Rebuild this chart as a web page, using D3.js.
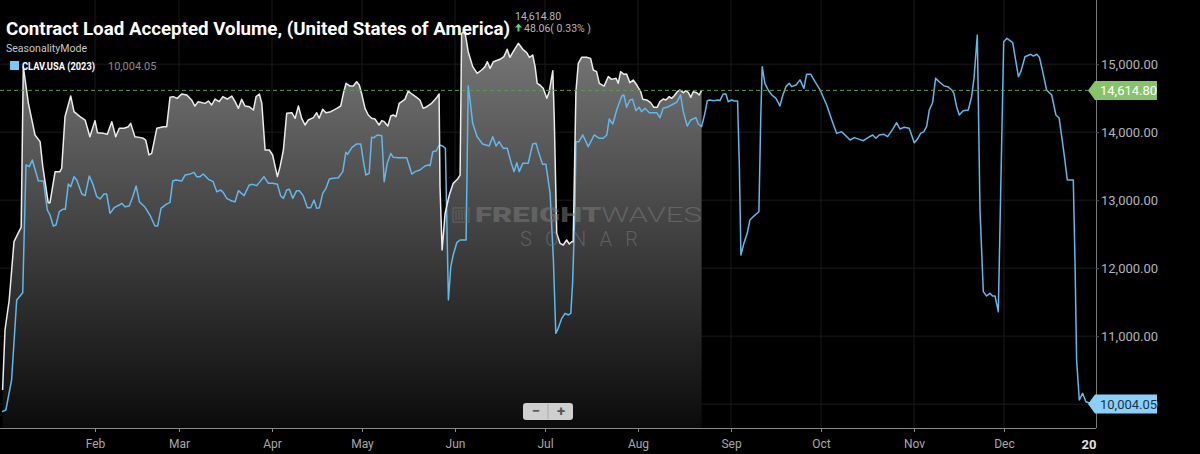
<!DOCTYPE html>
<html>
<head>
<meta charset="utf-8">
<script src="https://cdn.jsdelivr.net/npm/d3@7"></script>
<style>
  html, body { margin: 0; padding: 0; background: #000; }
  svg { display: block; }
</style>
</head>
<body>
<script>
// ---- data (day of year) ----
const monthTicks = ["Feb", "Mar", "Apr", "May", "Jun", "Jul", "Aug", "Sep", "Oct", "Nov", "Dec", "20"];
const yTicks = [10000, 11000, 12000, 13000, 14000, 15000];

// CLAV.USA 2023 (blue)
const days2023 = [0,1.3,3.2,4.9,6.9,8,9.1,10.1,12.1,13.8,15.1,16,17.1,18,19.1,20.2,21.1,22.1,22.9,24,24.9,26.6,27.7,29.1,30.2,31.6,32.7,34,34.9,36,37.4,39.1,39.9,41,42.4,43.6,44.7,45.8,47.7,49.3,51,51.9,53,54.7,56,56.9,58,59.9,61,62.4,64,64.9,66,67.1,68.8,70.4,71.6,72.9,73.8,74.9,76.6,77.7,78.8,80.7,82.4,83.6,84.9,86,87.3,88.8,90.2,91.8,92.9,93.8,94.9,95.8,96.9,98.2,99.1,100.4,101.8,102.9,104,104.9,105.8,106.9,108,109.1,110.4,112.1,113.6,114.6,115.2,116.6,118.2,119.6,120.4,121.3,122.4,123.2,124,125.1,126.6,127.4,128.4,129.6,130.4,132.1,134.9,136.6,137.7,139.3,141,142.1,142.7,143.6,144.7,145.8,146.9,147.8,148.8,149.6,150.4,151.6,152.7,154.7,155.4,156,156.9,158.4,160.2,162.4,163.6,164.7,165.7,167.1,168.4,169.7,170.7,171.6,172.4,173.6,175.4,176.9,178,178.8,180.2,181.3,182.7,183.8,184.6,185.4,186.6,187.7,188.8,189.6,190.2,191,191.3,192.3,193.6,195.4,197.4,199.1,200.4,201.6,202.4,203.6,204.9,206.6,207.3,208.2,209.3,210.2,211.3,212.4,213.2,214.3,215.8,217.1,218.2,219.3,220.4,222.1,223.8,224.9,226.2,227.1,228.4,229.6,231.3,232.1,233.2,234.3,235.1,236,237.1,238.8,239.3,240.4,241.3,242.1,243.2,244.1,245.2,245.8,246.3,247.3,248.4,249.3,250.4,252.3,252.9,253.4,254.3,255.4,256.6,258,259.3,260.2,261.3,262.4,263.2,264.7,266,267.3,268.2,269.6,271,272.7,274.9,276.6,278.2,279.9,281,282.7,284.1,285.8,287.1,288.8,290.2,291.3,292.4,294,295.2,296.9,298.2,299.3,300.7,302.4,304.1,305.1,306.2,307.3,308.2,309.1,310.2,311.2,312.7,314.1,315.2,316.6,317.3,318.2,319.1,320.4,322.1,323.2,324,325.1,326,327.1,328.2,329.3,330.2,331,332.1,333.9,335,336.9,338.8,339.6,341,342.9,343.8,344.9,345.8,346.9,348.2,349.9,351.3,352.4,354,355.1,356.6,357.1,357.7,358.2,359.1,360.2,361.3,362.7,364];
const values2023 = [9890,9915,10356,11532,11640,13518,13493,13591,13287,13282,12856,12782,12621,12635,12831,12866,12866,13238,13199,13346,13297,13091,13067,13356,13248,13052,13018,13091,13091,12807,12890,12929,12954,12905,12915,13052,13209,12978,12895,12782,12621,12621,12880,12939,12969,13282,13297,13282,13370,13380,13410,13346,13346,13385,13307,13273,13125,13150,13111,13027,12988,12978,13140,13067,13223,13233,13214,13273,13346,13248,13248,13233,13062,13027,13150,13160,13027,13140,13140,13067,12890,12890,13003,12880,12890,13101,13174,13312,13322,13331,13420,13704,13674,13773,13827,13827,13591,13370,13395,13924,13920,13959,13949,13273,13542,13689,13630,13625,13625,13385,13420,13444,13503,13518,13508,13714,13723,13812,13797,13763,11532,12022,12194,12375,12415,12415,14679,14474,14130,13934,13827,13797,13934,13797,13861,13763,13763,13552,13420,13552,13420,13542,13542,13827,13836,13714,13527,13527,13101,12120,11042,11116,11263,11336,11312,11336,11777,12905,13861,13861,13959,13787,13959,13910,13910,13959,14194,14121,14326,14532,14547,14366,14474,14483,14317,14366,14302,14351,14287,14287,14287,14214,14351,14375,14415,14439,14547,14302,14091,14180,14214,14121,14081,14277,14464,14474,14464,14474,14464,14562,14562,14449,14474,14459,14459,13469,12194,12366,12513,12709,12758,12831,14180,14964,14719,14621,14547,14498,14385,14532,14670,14719,14670,14694,14770,14645,14851,14851,14743,14621,14400,14179,13983,14008,13959,13885,13920,13895,13875,13924,13959,13910,13959,13969,13934,14042,14140,14047,14072,14057,13846,13895,13983,14008,14081,14326,14434,14792,14728,14679,14670,14621,14572,14375,14253,14317,14326,14523,14792,15429,12856,11655,11591,11630,11591,11591,11361,15331,15381,15316,14816,14890,15110,15146,15120,15146,15102,14890,14621,14547,14253,14204,13690,13297,13297,13297,12022,10650,10062,10160,10037,10013,10004.05];

// current year (white line, grey area)
const daysNow = [0.2,1,2.4,4,5.8,6.4,7.1,8.8,11,12.7,13.6,15.4,16,17.7,19.3,19.9,21,22.9,24,26,27.7,29.3,31,31.8,33.8,35.1,36.6,37.9,39.1,40.7,42.1,42.9,44.3,45.8,47.1,47.9,49,49.9,51.6,53.8,54.9,56,57.1,58.4,59.9,61.6,63.2,64.3,65.4,67.7,68.8,69.9,71,72.4,73.6,75.1,76.6,77.7,78.8,79.9,81,82.4,83.8,84.7,85.8,86.6,87.7,89.1,90.2,91.8,92.7,93.8,94.9,96.6,97.7,98.8,99.9,101,102.1,103.8,104.9,105.7,106.9,108,109.6,111.6,112.9,113.8,114.7,116,117.1,118.2,119.1,119.9,121,122.1,123.2,124.3,125.7,126.6,127.4,128.6,129.6,130.4,131.3,132.4,134.3,135.4,136.6,138.2,139.3,140.4,141.6,143.2,144.7,145.7,146,146.7,147.7,149.1,150.4,151.8,152.7,153.2,154.3,155.4,156.9,158.4,159.9,161,161.8,162.7,163.8,166,167.3,168.4,169.3,170.4,172.1,173.6,174.9,175.8,176.9,177.7,178.4,179.3,180.4,181.6,182.4,183.6,184.1,184.9,186,187.1,188.2,189.1,189.9,190.4,191.3,192.1,193.2,194.9,196.2,197.1,198.2,199.1,200.7,202.1,203.2,204.7,205.4,206.2,207.3,208.2,209.3,210.4,211.6,212.9,213.6,214.9,216.2,217.3,218.4,219.3,220.4,221.3,222.4,223.2,224,225.1,226,227.1,228,228.8,229.6,230.4,231.6,232.4,233.2];
const valuesNow = [10209,11091,11532,12390,12552,12600,14964,14424,13959,13861,13493,12964,12964,13420,13420,13470,14228,14532,14302,14228,14179,13934,14170,13993,13983,13969,14155,13934,14057,14057,14081,14130,13934,13924,13910,13885,13665,13689,14057,14081,14081,14513,14523,14498,14562,14547,14474,14385,14449,14424,14459,14400,14488,14449,14523,14488,14532,14449,14351,14483,14385,14375,14326,14523,14562,14424,13738,13738,13665,13346,13493,13738,14277,14287,14204,14385,14204,14106,14179,14214,14287,14204,14336,14287,14302,14351,14385,14572,14719,14679,14679,14743,14694,14562,14351,14253,14204,14194,14106,14170,14155,14091,14238,14253,14228,14424,14483,14606,14562,14513,14474,14351,14375,14424,14498,14562,13199,12268,12807,13076,13248,13307,13370,15454,15478,15184,14964,14866,14915,14964,15037,14939,15037,15072,15111,15219,15101,15184,15307,15219,15170,15101,15135,14964,14719,14694,14645,14498,14596,14905,14179,12513,12366,12341,12415,12356,12390,12390,14596,15013,15101,15101,15086,14915,14890,14719,14679,14817,14777,14792,14719,14890,14851,14856,14728,14768,14694,14596,14483,14474,14434,14366,14366,14449,14488,14474,14523,14498,14532,14596,14621,14581,14611,14581,14513,14596,14581,14547,14614.8];

const lastNow = 14614.80;
const last2023 = 10004.05;
const change = "48.06( 0.33% )";

// ---- layout ----
const width = 1200, height = 454;
const plotRight = 1096, plotBottom = 428;
const fmt = d3.format(",.2f");
const start = new Date(2023, 0, 1);
const dayToDate = d => new Date(start.getTime() + d * 86400000);

const svg = d3.select("body").append("svg")
  .attr("width", width)
  .attr("height", height)
  .style("background", "#000");

const x = d3.scaleTime()
  .domain([start, new Date(2024, 0, 1)])
  .range([2, 1097]);

const y = d3.scaleLinear()
  .domain([10000, 15000])
  .range([404.2, 64.2]);

// gradient for the current year area
const defs = svg.append("defs");
const grad = defs.append("linearGradient")
  .attr("id", "areaGrad")
  .attr("gradientUnits", "userSpaceOnUse")
  .attr("x1", 0).attr("y1", 20).attr("x2", 0).attr("y2", plotBottom);
grad.append("stop").attr("offset", "0%").attr("stop-color", "#7c7c7c");
grad.append("stop").attr("offset", "100%").attr("stop-color", "#0b0b0b");

defs.append("clipPath").attr("id", "plotClip")
  .append("rect").attr("x", 0).attr("y", 0).attr("width", plotRight).attr("height", plotBottom);

const monthDates = d3.range(1, 13).map(m => new Date(2023, m, 1));

// grid
const grid = svg.append("g");
grid.selectAll(".hg").data(yTicks).join("line")
  .attr("x1", 0).attr("x2", plotRight)
  .attr("y1", d => y(d)).attr("y2", d => y(d))
  .attr("stroke", "#1b1b1b");
grid.selectAll(".vg").data(monthDates.slice(0, 11)).join("line")
  .attr("x1", d => x(d)).attr("x2", d => x(d))
  .attr("y1", 0).attr("y2", plotBottom)
  .attr("stroke", "#1b1b1b");

const plot = svg.append("g").attr("clip-path", "url(#plotClip)");

const nowData = daysNow.map((d, i) => [dayToDate(d), valuesNow[i]]);
const data2023 = days2023.map((d, i) => [dayToDate(d), values2023[i]]);

// grey area under current year
plot.append("path")
  .datum(nowData)
  .attr("fill", "url(#areaGrad)")
  .attr("d", d3.area().x(d => x(d[0])).y0(plotBottom).y1(d => y(d[1])));

// watermark
const wm = svg.append("g").attr("opacity", 0.55);
wm.append("rect").attr("x", 453).attr("y", 208).attr("width", 16).attr("height", 14)
  .attr("fill", "none").attr("stroke", "#777").attr("stroke-width", 1.2);
[456, 459, 462, 465].forEach(bx => {
  wm.append("line").attr("x1", bx).attr("x2", bx).attr("y1", 210).attr("y2", 220)
    .attr("stroke", "#777").attr("stroke-width", 1.2);
});
const wmText = wm.append("text")
  .attr("x", 475).attr("y", 222)
  .attr("font-family", "Roboto, 'DejaVu Sans', sans-serif")
  .attr("font-size", 20)
  .attr("fill", "#7a7a7a")
  .attr("textLength", 227).attr("lengthAdjust", "spacingAndGlyphs");
wmText.append("tspan").attr("font-weight", 900).text("FREIGHT");
wmText.append("tspan").attr("font-weight", 300).text("WAVES");
wm.append("text")
  .attr("x", 520).attr("y", 246)
  .attr("font-family", "Roboto, 'DejaVu Sans', sans-serif")
  .attr("font-weight", 300)
  .attr("font-size", 20)
  .attr("fill", "#7a7a7a")
  .attr("textLength", 118).attr("lengthAdjust", "spacing")
  .text("SONAR");

// current value dashed line
svg.append("line")
  .attr("x1", 0).attr("x2", 1090)
  .attr("y1", y(lastNow)).attr("y2", y(lastNow))
  .attr("stroke", "#5f9a4e").attr("stroke-width", 1)
  .attr("stroke-dasharray", "4,3");

const line = d3.line().x(d => x(d[0])).y(d => y(d[1]));

plot.append("path")
  .datum(data2023)
  .attr("fill", "none")
  .attr("stroke", "#62b8ea")
  .attr("stroke-width", 1.5)
  .attr("stroke-linejoin", "round")
  .attr("d", line);

plot.append("path")
  .datum(nowData)
  .attr("fill", "none")
  .attr("stroke", "#ececec")
  .attr("stroke-width", 1.5)
  .attr("stroke-linejoin", "round")
  .attr("d", line);

// axes
const xAxis = svg.append("g")
  .attr("transform", `translate(0,${plotBottom})`)
  .call(d3.axisBottom(x).tickValues(monthDates).tickSize(4).tickSizeOuter(0)
    .tickFormat((d, i) => monthTicks[i]));
xAxis.select(".domain").attr("stroke", "#8a8a8a").attr("d", `M0,0.5H${plotRight}`);
xAxis.selectAll(".tick line").attr("stroke", "#8a8a8a");
xAxis.selectAll(".tick text")
  .attr("fill", "#a8a8a8")
  .attr("font-family", "Roboto, sans-serif")
  .attr("font-size", 12)
  .attr("dy", "1.05em");
// year label is cut off by the axis edge in the original
xAxis.selectAll(".tick").filter((d, i) => i === 11).select("text")
  .attr("text-anchor", "end").attr("x", -1)
  .attr("fill", "#e0e0e0").attr("font-weight", "bold").attr("font-size", 13);
xAxis.selectAll(".tick").filter((d, i) => i === 11).select("line").remove();

const yAxis = svg.append("g")
  .attr("transform", `translate(${plotRight},0)`)
  .call(d3.axisRight(y).tickValues(yTicks).tickSize(3).tickSizeOuter(0).tickFormat(fmt));
yAxis.select(".domain").attr("stroke", "#7a7a7a").attr("d", `M0.5,0V${plotBottom}`);
yAxis.selectAll(".tick line").attr("stroke", "#555");
yAxis.selectAll(".tick text")
  .attr("fill", "#b4b4b4")
  .attr("font-family", "Roboto, sans-serif")
  .attr("font-size", 13)
  .attr("x", 5);

// value tags on the right axis
function tag(value, fill, textFill) {
  const cy = y(value);
  svg.append("path")
    .attr("d", `M1088,${cy} L1095,${cy - 9.5} H1157 V${cy + 9.5} H1095 Z`)
    .attr("fill", fill);
  svg.append("text")
    .attr("x", 1100).attr("y", cy)
    .attr("dy", "0.36em")
    .attr("font-family", "Roboto, sans-serif")
    .attr("font-size", 13)
    .attr("fill", textFill)
    .text(fmt(value));
}
tag(lastNow, "#88c26a", "#ffffff");
tag(last2023, "#8ad0fb", "#1c3347");

// zoom control
const zc = svg.append("g");
zc.append("rect").attr("x", 523).attr("y", 403).attr("width", 50).attr("height", 17)
  .attr("rx", 3).attr("fill", "#cfcfcf");
zc.append("line").attr("x1", 548).attr("x2", 548).attr("y1", 404).attr("y2", 419)
  .attr("stroke", "#aaa");
zc.append("text").attr("x", 536).attr("y", 416).attr("text-anchor", "middle")
  .attr("font-family", "Roboto, sans-serif").attr("font-weight", "bold").attr("font-size", 15)
  .attr("fill", "#555").text("−");
zc.append("text").attr("x", 561).attr("y", 416).attr("text-anchor", "middle")
  .attr("font-family", "Roboto, sans-serif").attr("font-weight", "bold").attr("font-size", 15)
  .attr("fill", "#555").text("+");

// header
svg.append("text")
  .attr("x", 6).attr("y", 35)
  .attr("font-family", "'Liberation Sans Narrow', Roboto, sans-serif")
  .attr("font-weight", "bold")
  .attr("font-size", 19)
  .attr("fill", "#ffffff")
  .attr("textLength", 504).attr("lengthAdjust", "spacingAndGlyphs")
  .text("Contract Load Accepted Volume, (United States of America)");

svg.append("text")
  .attr("x", 515).attr("y", 20)
  .attr("font-family", "Roboto, sans-serif")
  .attr("font-size", 10.5)
  .attr("fill", "#b8b8b8")
  .text(fmt(lastNow));
// little green up arrow
svg.append("path")
  .attr("d", "M518.5,23.5 L522,27.5 H519.5 V31.5 H517.5 V27.5 H515 Z")
  .attr("fill", "#5fd27a");
svg.append("text")
  .attr("x", 524).attr("y", 32)
  .attr("font-family", "Roboto, sans-serif")
  .attr("font-size", 10.5)
  .attr("fill", "#b8b8b8")
  .text(change);

svg.append("text")
  .attr("x", 6).attr("y", 52)
  .attr("font-family", "Roboto, sans-serif")
  .attr("font-size", 11.5)
  .attr("fill", "#c8c8c8")
  .attr("textLength", 81).attr("lengthAdjust", "spacingAndGlyphs")
  .text("SeasonalityMode");

svg.append("rect")
  .attr("x", 10).attr("y", 61).attr("width", 9).attr("height", 9)
  .attr("fill", "#7cc8f8");
svg.append("text")
  .attr("x", 22).attr("y", 69.5)
  .attr("font-family", "Roboto, sans-serif")
  .attr("font-weight", "bold")
  .attr("font-size", 11)
  .attr("fill", "#ffffff")
  .attr("textLength", 73).attr("lengthAdjust", "spacingAndGlyphs")
  .text("CLAV.USA (2023)");
svg.append("text")
  .attr("x", 108).attr("y", 69.5)
  .attr("font-family", "Roboto, sans-serif")
  .attr("font-size", 11)
  .attr("fill", "#8a8a8a")
  .text(fmt(last2023));
</script>
</body>
</html>
